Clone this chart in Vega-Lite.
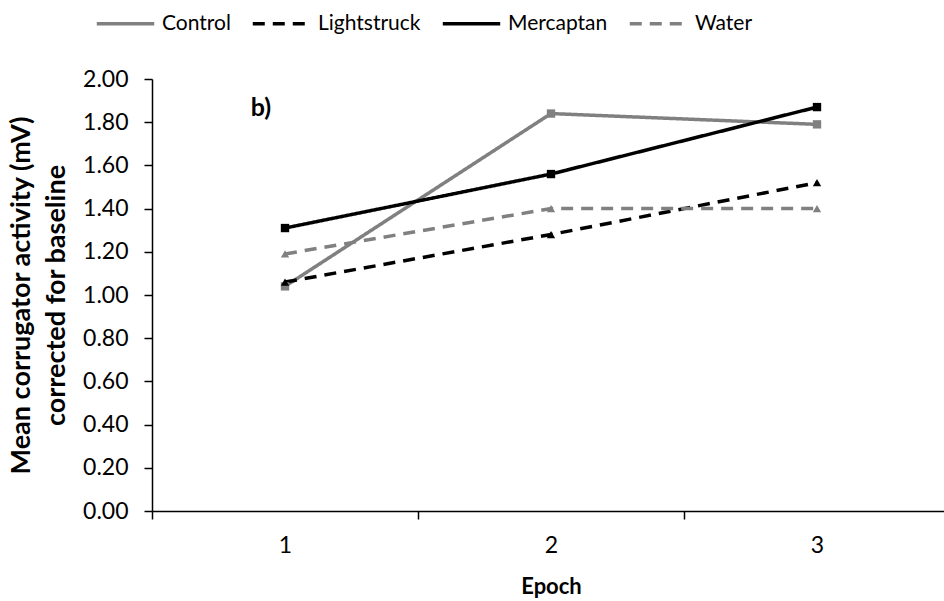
{
  "$schema": "https://vega.github.io/schema/vega-lite/v6.json",
  "autosize": {"type": "none"},
  "padding": {"left": 152, "top": 79, "right": 0, "bottom": 90},
  "width": 798,
  "height": 432,
  "background": "white",
  "config": {
    "font": "Lato",
    "view": {"stroke": null},
    "axis": {"labelFont": "Lato", "titleFont": "Lato", "labelColor": "black", "titleColor": "black", "domainColor": "black", "tickColor": "black", "labelFontSize": 23, "titleFontSize": 22, "titleFontWeight": "bold", "grid": false, "domainWidth": 1.5, "tickWidth": 1.5, "tickSize": 8}
  },
  "data": {"values": [
    {"series": "Control", "epoch": "1", "value": 1.04},
    {"series": "Control", "epoch": "2", "value": 1.84},
    {"series": "Control", "epoch": "3", "value": 1.79},
    {"series": "Lightstruck", "epoch": "1", "value": 1.06},
    {"series": "Lightstruck", "epoch": "2", "value": 1.28},
    {"series": "Lightstruck", "epoch": "3", "value": 1.52},
    {"series": "Mercaptan", "epoch": "1", "value": 1.31},
    {"series": "Mercaptan", "epoch": "2", "value": 1.56},
    {"series": "Mercaptan", "epoch": "3", "value": 1.87},
    {"series": "Water", "epoch": "1", "value": 1.19},
    {"series": "Water", "epoch": "2", "value": 1.40},
    {"series": "Water", "epoch": "3", "value": 1.40}
  ]},
  "encoding": {
    "x": {"field": "epoch", "type": "ordinal", "scale": {"paddingInner": 0, "paddingOuter": 0},
      "axis": {"title": "Epoch", "labelAngle": 0, "tickBand": "extent", "labelPadding": 15, "titlePadding": 19}},
    "y": {"field": "value", "type": "quantitative", "scale": {"domain": [0, 2], "nice": false},
      "axis": {"title": ["Mean corrugator activity (mV)", "corrected for baseline"], "titleFontSize": 27, "titleLineHeight": 35, "values": [0, 0.2, 0.4, 0.6, 0.8, 1.0, 1.2, 1.4, 1.6, 1.8, 2.0], "format": ".2f", "labelPadding": 16, "titlePadding": 12}},
    "color": {"field": "series", "type": "nominal", "scale": {"domain": ["Control", "Lightstruck", "Mercaptan", "Water"], "range": ["#808080", "#000000", "#000000", "#808080"]},
      "legend": {"orient": "none", "legendX": -57, "legendY": -86, "direction": "horizontal", "title": null, "symbolType": "stroke", "symbolSize": 3300, "symbolStrokeWidth": 3.5, "labelFontSize": 21, "labelFont": "Lato", "labelColor": "black", "columnPadding": 14, "labelOffset": 6}}
  },
  "layer": [
    {
      "mark": {"type": "line", "strokeWidth": 3.5},
      "encoding": {
        "strokeDash": {"field": "series", "type": "nominal", "scale": {"domain": ["Control", "Lightstruck", "Mercaptan", "Water"], "range": [[1, 0], [12, 8], [1, 0], [12, 8]]}}
      }
    },
    {
      "transform": [{"filter": "datum.series === 'Control' || datum.series === 'Mercaptan'"}],
      "mark": {"type": "point", "filled": true, "size": 70, "opacity": 1, "shape": "square"}
    },
    {
      "transform": [{"filter": "datum.series === 'Lightstruck' || datum.series === 'Water'"}],
      "mark": {"type": "point", "filled": true, "size": 70, "opacity": 1, "shape": "triangle-up"}
    },
    {
      "data": {"values": [{"label": "b)", "epoch": "1", "value": 1.865}]},
      "mark": {"type": "text", "fontSize": 25, "fontWeight": "bold", "font": "Lato", "align": "center", "baseline": "middle", "dx": -24, "color": "black"},
      "encoding": {"text": {"field": "label"}, "color": {"value": "black"}}
    }
  ]
}
